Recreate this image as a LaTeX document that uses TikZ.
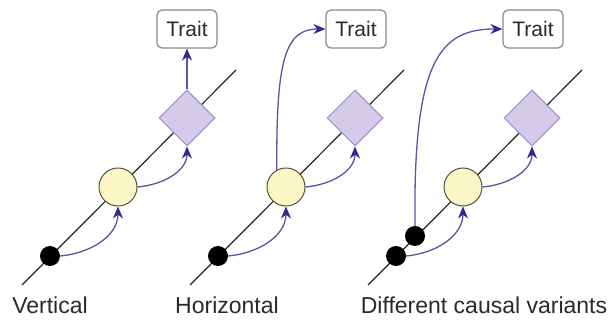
\documentclass[tikz,border=0pt]{standalone}
\usepackage{fontspec}
\setmainfont{Liberation Sans}
\usetikzlibrary{arrows.meta,shapes.geometric}
\definecolor{arrowc}{HTML}{5A55A5}
\definecolor{headc}{HTML}{2E2A8E}
\definecolor{circfill}{HTML}{FBF6C6}
\definecolor{circdraw}{HTML}{55533A}
\definecolor{diafill}{HTML}{D4CAEA}
\definecolor{diadraw}{HTML}{9A8FC4}
\definecolor{boxdraw}{HTML}{8A8A8A}
\definecolor{txt}{HTML}{2A2A2A}
\begin{document}
\begin{tikzpicture}[x=1pt,y=-1pt,
  chrom/.style={draw=black!85, line width=1.2pt},
  snp/.style={circle, fill=black, inner sep=0pt, minimum size=20pt},
  gene/.style={circle, draw=circdraw, line width=1pt, fill=circfill, inner sep=0pt, minimum size=38pt},
  prot/.style={diamond, draw=diadraw, line width=1pt, fill=diafill, inner sep=0pt, minimum size=56pt},
  trait/.style={rounded corners=5pt, draw=boxdraw, line width=1.2pt, fill=white, minimum width=60pt, minimum height=38pt, inner sep=0pt, font=\fontsize{21}{25}\selectfont, text=txt},
  eff/.style={draw=arrowc, line width=1.3pt, -{Stealth[length=12pt,width=10pt,color=headc]}},
  lab/.style={font=\fontsize{23}{27}\selectfont, text=txt, anchor=base}
]
\useasboundingbox[fill=white] (0,0) rectangle (613,320);

% chromosome lines
\coordinate (a1) at (22,285); \coordinate (b1) at (236,70);
\coordinate (a2) at (190,285); \coordinate (b2) at (404,70);
\coordinate (a3) at (368,285); \coordinate (b3) at (582,70);
\draw[chrom] (a1) -- (b1);
\draw[chrom] (a2) -- (b2);
\draw[chrom] (a3) -- (b3);

% panel 1
\node[snp] (s1) at (50,256) {};
\node[gene] (g1) at (118,187) {};
\node[prot] (p1) at (187,118) {};
\node[trait] (t1) at (187,29) {Trait};
\draw[eff] (s1.east) to[out=5,in=-90] (g1.south);
\draw[eff] (g1.east) to[out=5,in=-90] (p1.south);
\draw[eff] (p1.north) -- (t1.south);

% panel 2
\node[snp] (s2) at (218,256) {};
\node[gene] (g2) at (286,187) {};
\node[prot] (p2) at (355,118) {};
\node[trait] (t2) at (356,29) {Trait};
\draw[eff] (s2.east) to[out=5,in=-90] (g2.south);
\draw[eff] (g2.east) to[out=5,in=-90] (p2.south);
\draw[eff] (g2.118) .. controls (276,60) and (285,29) .. (t2.west);

% panel 3
\node[snp] (s3a) at (396,256) {};
\node[snp] (s3b) at (415,236) {};
\node[gene] (g3) at (463,187) {};
\node[prot] (p3) at (532,118) {};
\node[trait] (t3) at (533,29) {Trait};
\draw[eff] (s3a.east) to[out=5,in=-90] (g3.south);
\draw[eff] (g3.east) to[out=5,in=-90] (p3.south);
\draw[eff] (s3b.north) .. controls (413,60) and (440,29) .. (t3.west);

% labels
\node[lab] (l1) at (50,313) {Vertical};
\node[lab] (l2) at (227,313) {Horizontal};
\node[lab] (l3) at (484,313) {Different causal variants};
\end{tikzpicture}
\end{document}
